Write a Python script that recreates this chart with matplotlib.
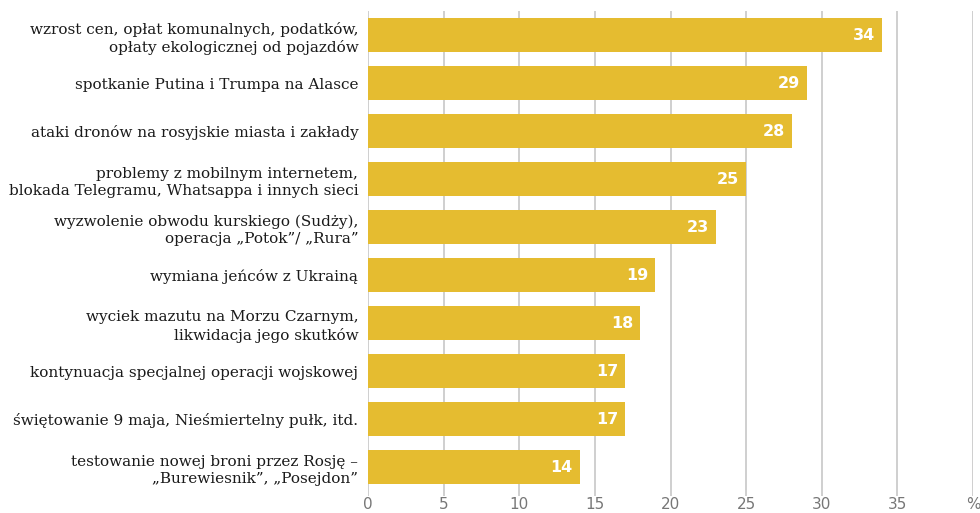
import matplotlib
matplotlib.use("Agg")
from matplotlib import pyplot as plt
import numpy as np

categories = [
    "wzrost cen, opłat komunalnych, podatków,\nopłaty ekologicznej od pojazdów",
    "spotkanie Putina i Trumpa na Alasce",
    "ataki dronów na rosyjskie miasta i zakłady",
    "problemy z mobilnym internetem,\nblokada Telegramu, Whatsappa i innych sieci",
    "wyzwolenie obwodu kurskiego (Sudży),\noperacja „Potok”/ „Rura”",
    "wymiana jeńców z Ukrainą",
    "wyciek mazutu na Morzu Czarnym,\nlikwidacja jego skutków",
    "kontynuacja specjalnej operacji wojskowej",
    "świętowanie 9 maja, Nieśmiertelny pułk, itd.",
    "testowanie nowej broni przez Rosję –\n„Burewiesnik”, „Posejdon”",
]
values = [34, 29, 28, 25, 23, 19, 18, 17, 17, 14]
xticks = [0, 5, 10, 15, 20, 25, 30, 35, 40]
xticklabels = ["0", "5", "10", "15", "20", "25", "30", "35", "%"]

bar_color = "#E5BC30"
grid_color = "#CCCCCC"

fig = plt.figure(figsize=(9.8, 5.13), dpi=100)
ax = fig.add_axes([368 / 980, 1 - 496 / 513, (973 - 368) / 980, (496 - 11) / 513])

ypos = np.arange(len(values))
ax.barh(ypos, values, height=0.72, color=bar_color, zorder=2)

for y, v in zip(ypos, values):
    ax.annotate(str(v), xy=(v, y), xytext=(-5, 0), textcoords="offset points",
                ha="right", va="center", color="white", fontsize=11.5,
                fontweight="bold", family="DejaVu Sans", zorder=3)

ax.set_xlim(0, 40)
ax.set_ylim(9.6, -0.5)
ax.set_xticks(xticks)
ax.set_xticklabels(xticklabels, color="#777777", fontsize=11)
ax.set_yticks(ypos)
ax.set_yticklabels(categories, fontsize=11, color="#1a1a1a",
                   family="DejaVu Serif", linespacing=1.3)
ax.tick_params(axis="both", length=0)
ax.tick_params(axis="y", pad=7)
ax.tick_params(axis="x", pad=1)

ax.grid(axis="x", color=grid_color, linewidth=1.3, zorder=0)
for s in ax.spines.values():
    s.set_visible(False)

fig.savefig("out.png", dpi=100)
